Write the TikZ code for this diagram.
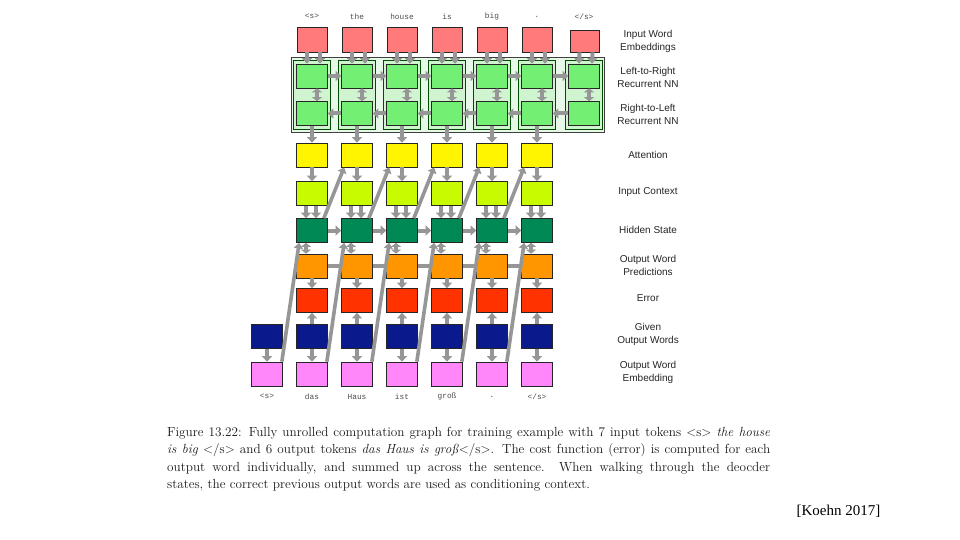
\documentclass[tikz,border=0pt]{standalone}
\usepackage{fontspec}
\newfontfamily\labelfont{Liberation Sans}
\newfontfamily\tokfont{Liberation Mono}
\newfontfamily\timesfont{Liberation Serif}
\usetikzlibrary{arrows.meta}
\def\eostok{</s>}
\definecolor{embred}{RGB}{255,122,122}
\definecolor{rnngreen}{RGB}{115,240,115}
\definecolor{framegreen}{RGB}{232,248,232}
\definecolor{colgreen}{RGB}{208,243,208}
\definecolor{attyellow}{RGB}{255,245,0}
\definecolor{ctxgreen}{RGB}{200,250,0}
\definecolor{hidgreen}{RGB}{0,136,85}
\definecolor{predorange}{RGB}{255,150,0}
\definecolor{errred}{RGB}{255,50,0}
\definecolor{givenblue}{RGB}{10,25,140}
\definecolor{embpink}{RGB}{255,135,250}
\definecolor{arrowgray}{RGB}{150,150,150}
\begin{document}
\begin{tikzpicture}[x=1pt,y=-1pt,
  boxs/.style={draw=black!85, line width=0.7pt, minimum width=31pt, minimum height=24pt, inner sep=0pt},
  colframe/.style={draw=black!70!green, line width=0.6pt, fill=colgreen, minimum width=37pt, minimum height=69pt, inner sep=0pt},
  conn/.style={draw=arrowgray, line width=4pt, -{Triangle[width=10pt,length=5.5pt]}},
  connboth/.style={draw=arrowgray, line width=4pt, {Triangle[width=10pt,length=4pt]}-{Triangle[width=10pt,length=4pt]}},
  connbar/.style={draw=arrowgray, line width=4.5pt},
  diag/.style={draw=arrowgray, line width=3.6pt, -{Triangle[width=9pt,length=5.5pt]}},
  rowlab/.style={font=\labelfont\fontsize{10}{13}\selectfont, align=center, text=black!85},
  tok/.style={font=\tokfont\fontsize{7.8}{9}\selectfont, text=black!70, inner sep=0pt}
]
\useasboundingbox (0,0) rectangle (960,540);
\fill[white] (0,0) rectangle (960,540);

% encoder frame
\node[draw=black!75, line width=0.7pt, fill=framegreen, minimum width=313pt, minimum height=75pt, inner sep=0pt] (outer) at (447.5,94.5) {};

% encoder columns
\foreach \i/\x/\w in {1/312/<s>,2/357/the,3/402/house,4/447/is,5/492/big,6/537/.,7/584/\eostok}{
  \node[colframe] (fr\i) at (\x,94.5) {};
  \node[tok] (it\i) at (\x,16.5) {\w};
  \node[boxs, fill=rnngreen] (f\i) at (\x,76) {};
  \node[boxs, fill=rnngreen] (b\i) at (\x,113.5) {};
}
\foreach \i/\x in {1/312,2/357,3/402,4/447,5/492,6/537}{
  \node[boxs, fill=embred, minimum width=30pt, minimum height=25pt] (e\i) at (\x,39.5) {};
}
\node[boxs, fill=embred, minimum width=29pt, minimum height=22pt] (e7) at (584.5,41) {};

% decoder columns
\foreach \i/\x in {1/312,2/357,3/402,4/447,5/492,6/537}{
  \node[boxs, fill=attyellow] (a\i) at (\x,155) {};
  \node[boxs, fill=ctxgreen] (c\i) at (\x,193.5) {};
  \node[boxs, fill=hidgreen] (h\i) at (\x,230.5) {};
  \node[boxs, fill=predorange] (o\i) at (\x,266) {};
  \node[boxs, fill=errred] (r\i) at (\x,300.5) {};
}
\foreach \i/\x/\w in {0/267/<s>,1/312/das,2/357/Haus,3/402/ist,4/447/groß,5/492/.,6/537/\eostok}{
  \node[boxs, fill=givenblue] (g\i) at (\x,336.5) {};
  \node[boxs, fill=embpink] (p\i) at (\x,374) {};
  \node[tok] (ot\i) at (\x,396.5) {\w};
}

% encoder connectors
\foreach \i in {1,...,7}{
  \draw[conn] ([xshift=-5pt]e\i.south) -- ([xshift=-5pt]f\i.north);
  \draw[conn] ([xshift=8pt]e\i.south) -- ([xshift=8pt]f\i.north);
  \draw[connboth] ([xshift=5pt]f\i.south) -- ([xshift=5pt]b\i.north);
}
\foreach \i [evaluate=\i as \j using int(\i+1)] in {1,...,6}{
  \draw[conn] (f\i.east) -- (f\j.west);
  \draw[conn] (b\j.west) -- (b\i.east);
  \draw[conn] (b\i.south) -- (a\i.north);
  \draw[conn] (a\i.south) -- (c\i.north);
  \draw[conn] ([xshift=-6pt]c\i.south) -- ([xshift=-6pt]h\i.north);
  \draw[conn] ([xshift=4pt]c\i.south) -- ([xshift=4pt]h\i.north);
  \draw[connboth] ([xshift=-6pt]h\i.south) -- ([xshift=-6pt]o\i.north);
  \draw[conn] (o\i.south) -- (r\i.north);
  \draw[conn] (g\i.north) -- (r\i.south);
}
\foreach \i [evaluate=\i as \j using int(\i+1)] in {1,...,5}{
  \draw[conn] (h\i.east) -- (h\j.west);
  \draw[connbar] (o\i.east) -- (o\j.west);
  \draw[diag] ([xshift=-4pt]h\i.north east) -- ([xshift=3pt]a\j.south west);
}
\foreach \i in {0,...,6}{
  \draw[conn] (g\i.south) -- (p\i.north);
}
\foreach \i [evaluate=\i as \j using int(\i+1)] in {0,...,5}{
  \draw[diag] ([xshift=-1pt]p\i.north east) -- ([xshift=3pt]h\j.south west);
}

% row labels
\node[rowlab] (l1) at (648,41) {Input Word\\Embeddings};
\node[rowlab] (l2) at (648,77) {Left-to-Right\\Recurrent NN};
\node[rowlab] (l3) at (648,114) {Right-to-Left\\Recurrent NN};
\node[rowlab] (l4) at (648,155) {Attention};
\node[rowlab] (l5) at (648,192.5) {Input Context};
\node[rowlab] (l6) at (648,230) {Hidden State};
\node[rowlab] (l7) at (648,265) {Output Word\\Predictions};
\node[rowlab] (l8) at (648,298) {Error};
\node[rowlab] (l9) at (648,334) {Given\\Output Words};
\node[rowlab] (l10) at (648,372.5) {Output Word\\Embedding};

% caption
\node[anchor=north west, text width=603pt, align=justify, inner sep=0pt, text=black!90,
      font=\fontsize{13.2}{17.3}\selectfont] (cap) at (167,427)
{Figure 13.22: Fully unrolled computation graph for training example with 7 input tokens <s> \textit{the house}\linebreak
\textit{is big} </s> and 6 output tokens \textit{das Haus is groß}</s>. The cost function (error) is computed for each\linebreak
output word individually, and summed up across the sentence. When walking through the deocder\linebreak
states, the correct previous output words are used as conditioning context.};

\node[font=\timesfont\fontsize{15}{18}\selectfont, anchor=base] (src) at (838.5,515.5) {[Koehn 2017]};
\end{tikzpicture}
\end{document}
